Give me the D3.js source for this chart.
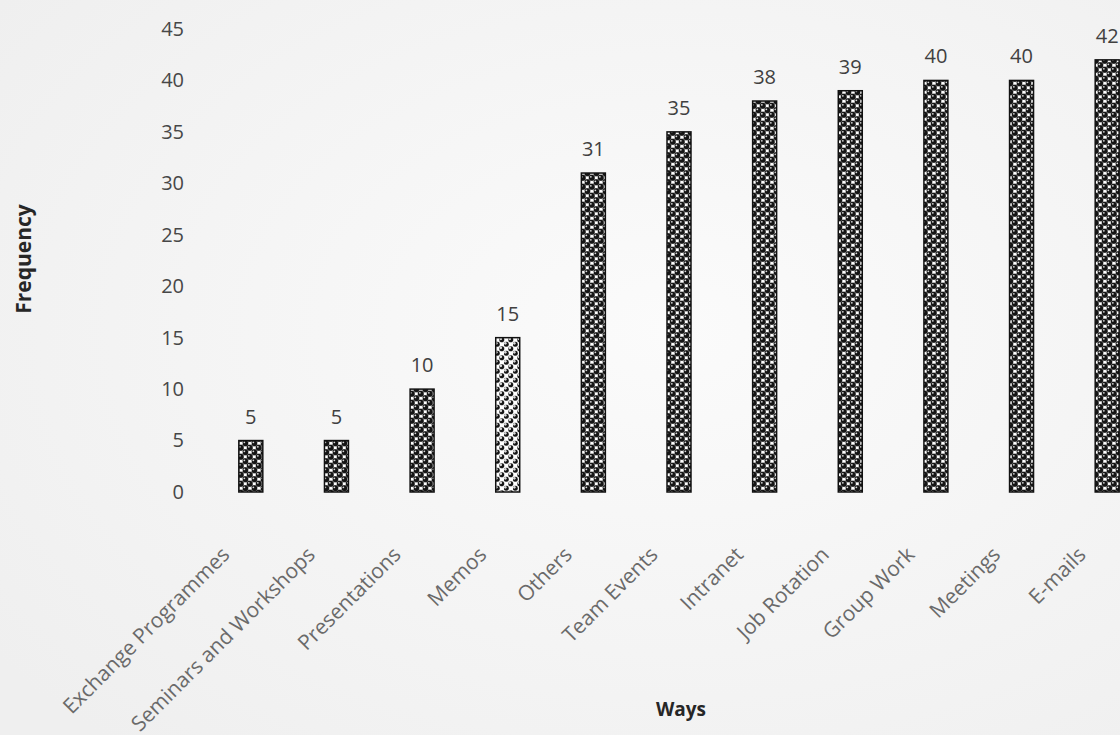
<!DOCTYPE html>
<html>
<head>
<meta charset="utf-8">
<script src="https://cdn.jsdelivr.net/npm/d3@7"></script>
<style>
  html, body { margin: 0; padding: 0; background: #f6f6f6; }
  svg { display: block; }
  text { font-family: "Open Sans", "Noto Sans", sans-serif; }
</style>
</head>
<body>
<svg id="chart" width="1120" height="735"></svg>
<script>
// Ways of sharing knowledge and how often each was mentioned
const categories = [
  "Exchange Programmes", "Seminars and Workshops", "Presentations", "Memos",
  "Others", "Team Events", "Intranet", "Job Rotation", "Group Work",
  "Meetings", "E-mails"
];
const frequencies = [5, 5, 10, 15, 31, 35, 38, 39, 40, 40, 42];
const yTicks = [0, 5, 10, 15, 20, 25, 30, 35, 40, 45];

const svg = d3.select("#chart");
const W = 1120, H = 735;

// soft paper background
const defs = svg.append("defs");
const bg = defs.append("radialGradient").attr("id", "paper")
  .attr("cx", "60%").attr("cy", "45%").attr("r", "75%");
bg.append("stop").attr("offset", "0%").attr("stop-color", "#fbfbfb");
bg.append("stop").attr("offset", "100%").attr("stop-color", "#efefef");
svg.append("rect").attr("width", W).attr("height", H).attr("fill", "url(#paper)");

// sphere fill pattern for the bars: dark balls with a glint, white spots between
function spherePattern(id, bgColor, r, glint, spot) {
  const s = 9;
  const p = defs.append("pattern").attr("id", id)
    .attr("patternUnits", "userSpaceOnUse").attr("width", s).attr("height", s);
  p.append("rect").attr("width", s).attr("height", s).attr("fill", bgColor);
  const balls = [[2.25, 2.25], [6.75, 6.75], [-2.25, 6.75], [6.75, -2.25], [11.25, 6.75], [2.25, 11.25], [11.25, -2.25], [-2.25, 11.25]];
  const spots = [[6.75, 2.25], [2.25, 6.75]];
  spots.forEach(([cx, cy]) => {
    p.append("circle").attr("cx", cx).attr("cy", cy).attr("r", spot).attr("fill", "#ffffff");
  });
  balls.forEach(([cx, cy]) => {
    p.append("circle").attr("cx", cx).attr("cy", cy).attr("r", r).attr("fill", "#151515");
    p.append("circle").attr("cx", cx - 0.9).attr("cy", cy - 0.9).attr("r", glint).attr("fill", "#d8d8d8");
  });
}
spherePattern("spheres", "#8f8f8f", 2.9, 0.9, 1.6);
spherePattern("spheresLight", "#f4f4f4", 2.5, 1.3, 2.0);

const margin = { left: 208, right: -30, top: 29, bottom: 243 };
const x = d3.scaleBand()
  .domain(categories)
  .range([margin.left, W - margin.right])
  .paddingInner(0.72)
  .paddingOuter(0.36);
const y = d3.scaleLinear().domain([0, 45]).range([H - margin.bottom, margin.top]);

// y axis labels only (no line, no gridlines)
const yAxis = svg.append("g")
  .attr("transform", `translate(${margin.left - 24},0)`)
  .call(d3.axisLeft(y).tickValues(yTicks).tickSize(0).tickPadding(0));
yAxis.select(".domain").remove();
yAxis.selectAll("text")
  .attr("fill", "#474747")
  .style("font-size", "20px");

// bars
const data = categories.map((c, i) => ({ c, v: frequencies[i] }));
svg.append("g").selectAll("rect").data(data).join("rect")
  .attr("x", d => x(d.c))
  .attr("y", d => y(d.v))
  .attr("width", x.bandwidth())
  .attr("height", d => y(0) - y(d.v))
  .attr("fill", d => d.c === "Memos" ? "url(#spheresLight)" : "url(#spheres)")
  .attr("stroke", "#111")
  .attr("stroke-width", 1.5);

// value labels
svg.append("g").selectAll("text").data(data).join("text")
  .attr("x", d => x(d.c) + x.bandwidth() / 2)
  .attr("y", d => y(d.v) - 17)
  .attr("text-anchor", "middle")
  .attr("fill", "#404040")
  .style("font-size", "20px")
  .text(d => d.v);

// category labels, rotated
const xAxis = svg.append("g")
  .attr("transform", `translate(0,${y(0)})`)
  .call(d3.axisBottom(x).tickSize(0).tickPadding(0));
xAxis.select(".domain").remove();
xAxis.selectAll("text")
  .attr("text-anchor", "end")
  .attr("dy", 0)
  .attr("transform", "translate(-20,64) rotate(-45)")
  .attr("fill", "#6a6a6a")
  .style("font-size", "21px");

// axis titles
svg.append("text")
  .attr("transform", "translate(31,259) rotate(-90)")
  .attr("text-anchor", "middle")
  .attr("fill", "#262626")
  .style("font-size", "21px")
  .style("font-weight", "bold")
  .text("Frequency");

svg.append("text")
  .attr("x", 681).attr("y", 716)
  .attr("text-anchor", "middle")
  .attr("fill", "#262626")
  .style("font-size", "19px")
  .style("font-weight", "bold")
  .text("Ways");
</script>
</body>
</html>
